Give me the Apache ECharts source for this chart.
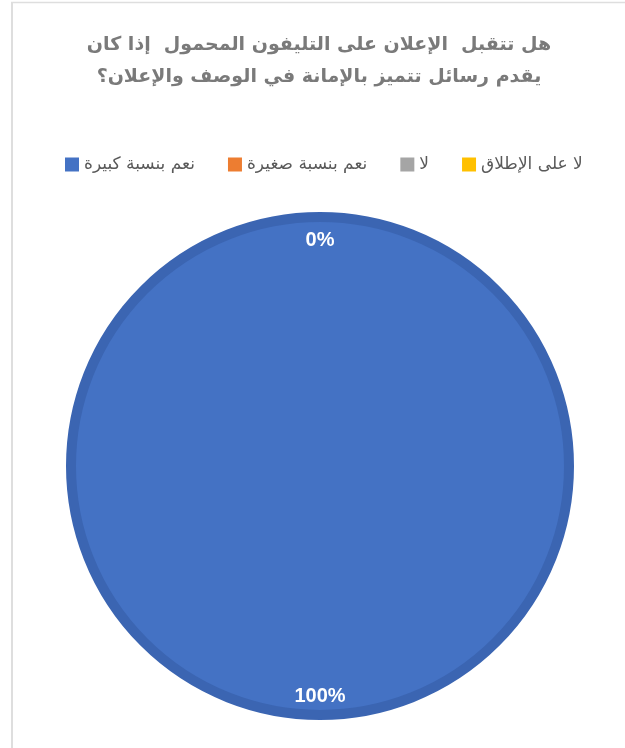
<!DOCTYPE html>
<html><head><meta charset="utf-8">
<script src="https://cdn.jsdelivr.net/npm/echarts@6/dist/echarts.min.js"></script>
<style>html,body{margin:0;padding:0;background:#fff;}#c{width:625px;height:748px;}</style>
</head><body><div id="c"></div>
<script>
const titleLines = ['هل تتقبل  الإعلان على التليفون المحمول  إذا كان', 'يقدم رسائل تتميز بالإمانة في الوصف والإعلان؟'];
const categories = ['نعم بنسبة كبيرة', 'نعم بنسبة صغيرة', 'لا', 'لا على الإطلاق'];
const values = [100, 0, 0, 0];
const colors = ['#4472C4', '#ED7D31', '#A5A5A5', '#FFC000'];
const labelTexts = ['100%', '0%', '0%', '0%'];

const chart = echarts.init(document.getElementById('c'), null, {renderer: 'canvas'});
const mainData = categories.map((n, i) => ({
  name: n, value: values[i],
  itemStyle: {color: colors[i], borderColor: values[i] > 0 ? '#3B65B2' : 'transparent', borderWidth: values[i] > 0 ? 10 : 0}
}));
const labelData = categories.map((n, i) => ({
  name: n, value: values[i], label: {formatter: labelTexts[i]}
}));
chart.setOption({
  animation: false,
  backgroundColor: '#fff',
  color: colors,
  title: {
    text: titleLines.join('\n'), left: 319, top: 29, padding: 0, textAlign: 'center',
    textStyle: {fontFamily: 'DejaVu Sans', fontWeight: 'bold', fontSize: 19, color: '#7a7a7a', lineHeight: 32}
  },
  legend: {
    data: categories, left: 60, top: 151, icon: 'rect', itemWidth: 14, itemHeight: 14, itemGap: 33,
    selectedMode: false,
    itemStyle: {borderWidth: 0},
    textStyle: {fontFamily: 'DejaVu Sans', fontSize: 17, color: '#595959'}
  },
  graphic: [
    {type: 'line', shape: {x1: 12, y1: 2, x2: 12, y2: 748}, style: {stroke: '#dedede', lineWidth: 2}},
    {type: 'line', shape: {x1: 11, y1: 2.5, x2: 625, y2: 2.5}, style: {stroke: '#dedede', lineWidth: 1.5}}
  ],
  series: [
    {
      type: 'pie', center: [320, 466], radius: [0, 249], startAngle: 90, clockwise: true,
      label: {show: false}, labelLine: {show: false}, silent: true,
      data: mainData
    },
    {
      type: 'pie', center: [320, 468], radius: [200, 250], startAngle: 90, clockwise: true, silent: true,
      itemStyle: {color: 'transparent', borderWidth: 0},
      label: {show: true, position: 'inside', color: '#fff', fontFamily: 'Liberation Sans', fontWeight: 'bold', fontSize: 20},
      labelLine: {show: false},
      data: labelData
    }
  ]
});
</script></body></html>
